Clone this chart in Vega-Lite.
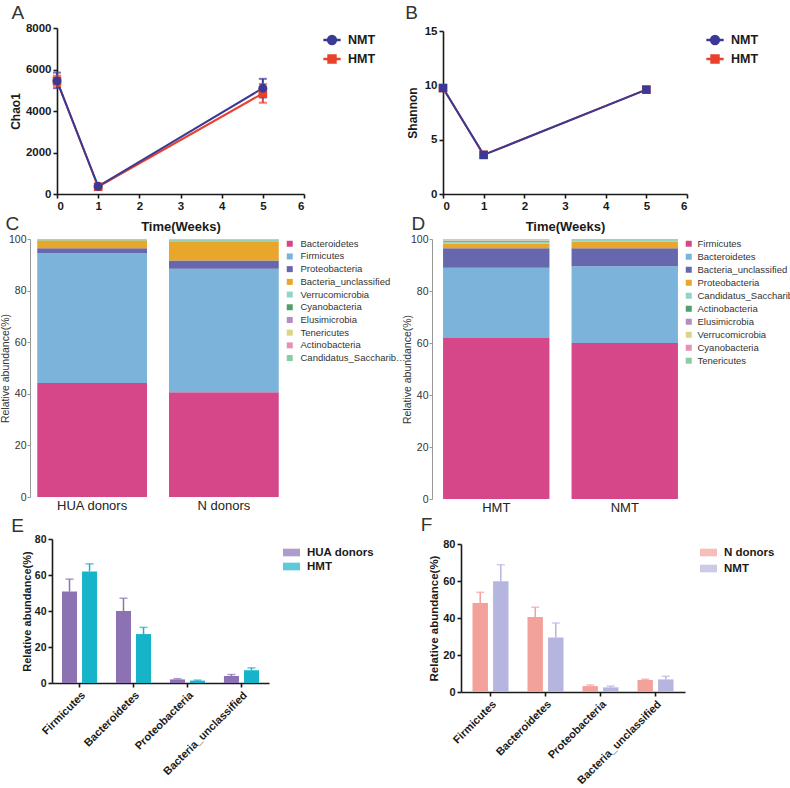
{
  "$schema": "https://vega.github.io/schema/vega-lite/v6.json",
  "padding": {"left": 0, "top": 4, "right": 0, "bottom": 0},
  "background": "white",
  "columns": 2,
  "align": "each",
  "bounds": "flush",
  "spacing": {"row": 45, "column": 139},
  "resolve": {"scale": {"color": "independent", "fill": "independent", "stroke": "independent", "shape": "independent", "x": "independent", "y": "independent", "xOffset": "independent"}},
  "config": {
    "view": {"stroke": null},
    "font": "Liberation Sans",
    "axis": {"grid": false, "labelFont": "Liberation Sans", "labelFontWeight": "bold", "labelFontSize": 11.5, "labelColor": "#1a1a1a", "labelPadding": 2, "domainColor": "#1a1a1a", "domainWidth": 1.6, "tickColor": "#1a1a1a", "tickWidth": 1.6, "tickSize": 4, "titleFont": "Liberation Sans", "titleFontWeight": "bold", "titleFontSize": 12, "titleColor": "#1a1a1a"},
    "title": {"fontSize": 19, "fontWeight": "normal", "color": "#333333", "anchor": "start", "frame": "bounds", "offset": 2, "font": "Liberation Sans"}
  },
  "datasets": {
    "chao": [
      {"group": "HMT", "week": 0, "mean": 5450, "lo": 5200, "hi": 5700},
      {"group": "HMT", "week": 1, "mean": 350, "lo": 250, "hi": 450},
      {"group": "HMT", "week": 5, "mean": 4850, "lo": 4400, "hi": 5300},
      {"group": "NMT", "week": 0, "mean": 5450, "lo": 5100, "hi": 5850},
      {"group": "NMT", "week": 1, "mean": 370, "lo": 280, "hi": 460},
      {"group": "NMT", "week": 5, "mean": 5100, "lo": 4650, "hi": 5550}
    ],
    "shannon": [
      {"group": "HMT", "week": 0, "mean": 9.75, "lo": 9.6, "hi": 9.9},
      {"group": "HMT", "week": 1, "mean": 3.6, "lo": 3.3, "hi": 3.9},
      {"group": "HMT", "week": 5, "mean": 9.6, "lo": 9.5, "hi": 9.7},
      {"group": "NMT", "week": 0, "mean": 9.75, "lo": 9.6, "hi": 9.9},
      {"group": "NMT", "week": 1, "mean": 3.6, "lo": 3.3, "hi": 3.9},
      {"group": "NMT", "week": 5, "mean": 9.6, "lo": 9.5, "hi": 9.7}
    ],
    "compC": [
      {"sample": "HUA donors", "phylum": "Bacteroidetes", "value": 44.2, "rank": 1},
      {"sample": "HUA donors", "phylum": "Firmicutes", "value": 50.3, "rank": 2},
      {"sample": "HUA donors", "phylum": "Proteobacteria", "value": 1.9, "rank": 3},
      {"sample": "HUA donors", "phylum": "Bacteria_unclassified", "value": 3.0, "rank": 4},
      {"sample": "HUA donors", "phylum": "Verrucomicrobia", "value": 0.15, "rank": 5},
      {"sample": "HUA donors", "phylum": "Cyanobacteria", "value": 0.25, "rank": 6},
      {"sample": "HUA donors", "phylum": "Elusimicrobia", "value": 0.05, "rank": 7},
      {"sample": "HUA donors", "phylum": "Tenericutes", "value": 0.05, "rank": 8},
      {"sample": "HUA donors", "phylum": "Actinobacteria", "value": 0.03, "rank": 9},
      {"sample": "HUA donors", "phylum": "Candidatus_Saccharibacteria", "value": 0.02, "rank": 10},
      {"sample": "N donors", "phylum": "Bacteroidetes", "value": 40.6, "rank": 1},
      {"sample": "N donors", "phylum": "Firmicutes", "value": 47.9, "rank": 2},
      {"sample": "N donors", "phylum": "Proteobacteria", "value": 3.2, "rank": 3},
      {"sample": "N donors", "phylum": "Bacteria_unclassified", "value": 7.1, "rank": 4},
      {"sample": "N donors", "phylum": "Verrucomicrobia", "value": 0.7, "rank": 5},
      {"sample": "N donors", "phylum": "Cyanobacteria", "value": 0.2, "rank": 6},
      {"sample": "N donors", "phylum": "Elusimicrobia", "value": 0.1, "rank": 7},
      {"sample": "N donors", "phylum": "Tenericutes", "value": 0.1, "rank": 8},
      {"sample": "N donors", "phylum": "Actinobacteria", "value": 0.05, "rank": 9},
      {"sample": "N donors", "phylum": "Candidatus_Saccharibacteria", "value": 0.05, "rank": 10}
    ],
    "compD": [
      {"sample": "HMT", "phylum": "Firmicutes", "value": 61.9, "rank": 1},
      {"sample": "HMT", "phylum": "Bacteroidetes", "value": 27.0, "rank": 2},
      {"sample": "HMT", "phylum": "Bacteria_unclassified", "value": 7.5, "rank": 3},
      {"sample": "HMT", "phylum": "Proteobacteria", "value": 1.9, "rank": 4},
      {"sample": "HMT", "phylum": "Candidatus_Saccharibacteria", "value": 0.5, "rank": 5},
      {"sample": "HMT", "phylum": "Actinobacteria", "value": 0.3, "rank": 6},
      {"sample": "HMT", "phylum": "Elusimicrobia", "value": 0.3, "rank": 7},
      {"sample": "HMT", "phylum": "Verrucomicrobia", "value": 0.3, "rank": 8},
      {"sample": "HMT", "phylum": "Cyanobacteria", "value": 0.2, "rank": 9},
      {"sample": "HMT", "phylum": "Tenericutes", "value": 0.1, "rank": 10},
      {"sample": "NMT", "phylum": "Firmicutes", "value": 60.0, "rank": 1},
      {"sample": "NMT", "phylum": "Bacteroidetes", "value": 29.5, "rank": 2},
      {"sample": "NMT", "phylum": "Bacteria_unclassified", "value": 6.9, "rank": 3},
      {"sample": "NMT", "phylum": "Proteobacteria", "value": 2.6, "rank": 4},
      {"sample": "NMT", "phylum": "Candidatus_Saccharibacteria", "value": 0.6, "rank": 5},
      {"sample": "NMT", "phylum": "Actinobacteria", "value": 0.2, "rank": 6},
      {"sample": "NMT", "phylum": "Elusimicrobia", "value": 0.05, "rank": 7},
      {"sample": "NMT", "phylum": "Verrucomicrobia", "value": 0.05, "rank": 8},
      {"sample": "NMT", "phylum": "Cyanobacteria", "value": 0.05, "rank": 9},
      {"sample": "NMT", "phylum": "Tenericutes", "value": 0.05, "rank": 10}
    ],
    "barE": [
      {"phylum": "Firmicutes", "group": "HUA donors", "mean": 50.8, "hi": 57.7},
      {"phylum": "Firmicutes", "group": "HMT", "mean": 62.0, "hi": 66.2},
      {"phylum": "Bacteroidetes", "group": "HUA donors", "mean": 40.0, "hi": 47.1},
      {"phylum": "Bacteroidetes", "group": "HMT", "mean": 27.2, "hi": 30.9},
      {"phylum": "Proteobacteria", "group": "HUA donors", "mean": 2.0, "hi": 2.4},
      {"phylum": "Proteobacteria", "group": "HMT", "mean": 1.3, "hi": 1.6},
      {"phylum": "Bacteria_unclassified", "group": "HUA donors", "mean": 3.9, "hi": 4.7},
      {"phylum": "Bacteria_unclassified", "group": "HMT", "mean": 7.1, "hi": 8.4}
    ],
    "barF": [
      {"phylum": "Firmicutes", "group": "N donors", "mean": 48.1, "hi": 53.9},
      {"phylum": "Firmicutes", "group": "NMT", "mean": 59.8, "hi": 68.8},
      {"phylum": "Bacteroidetes", "group": "N donors", "mean": 40.5, "hi": 45.8},
      {"phylum": "Bacteroidetes", "group": "NMT", "mean": 29.5, "hi": 37.3},
      {"phylum": "Proteobacteria", "group": "N donors", "mean": 3.2, "hi": 3.8},
      {"phylum": "Proteobacteria", "group": "NMT", "mean": 2.5, "hi": 3.2},
      {"phylum": "Bacteria_unclassified", "group": "N donors", "mean": 6.5, "hi": 6.9},
      {"phylum": "Bacteria_unclassified", "group": "NMT", "mean": 6.8, "hi": 8.5}
    ]
  },
  "concat": [
    {
      "title": {"text": "A", "dx": 2, "offset": -1},
      "width": 247, "height": 166,
      "data": {"name": "chao"},
      "encoding": {
        "x": {"field": "week", "type": "quantitative", "scale": {"domain": [0, 6], "nice": false}, "axis": {"values": [0, 1, 2, 3, 4, 5, 6], "title": "Time(Weeks)", "titleFontSize": 13, "titlePadding": 9, "format": "d"}},
        "y": {"field": "mean", "type": "quantitative", "title": "Chao1", "scale": {"domain": [0, 8000], "nice": false}, "axis": {"values": [0, 2000, 4000, 6000, 8000], "titlePadding": 3, "format": "d"}},
        "color": {"field": "group", "type": "nominal", "scale": {"domain": ["HMT", "NMT"], "range": ["#e8412c", "#3a3a96"]}, "legend": null}
      },
      "layer": [
        {"transform": [{"filter": "datum.group === 'HMT'"}], "mark": {"type": "line", "strokeWidth": 2}},
        {"transform": [{"filter": "datum.group === 'NMT'"}], "mark": {"type": "line", "strokeWidth": 2}},
        {"mark": {"type": "rule", "strokeWidth": 2}, "encoding": {"y": {"field": "lo", "type": "quantitative", "title": "Chao1", "scale": {"domain": [0, 8000], "nice": false}}, "y2": {"field": "hi"}}},
        {"mark": {"type": "tick", "orient": "horizontal", "size": 8, "thickness": 2}, "encoding": {"y": {"field": "hi", "type": "quantitative", "title": "Chao1", "scale": {"domain": [0, 8000], "nice": false}}}},
        {"mark": {"type": "tick", "orient": "horizontal", "size": 8, "thickness": 2}, "encoding": {"y": {"field": "lo", "type": "quantitative", "title": "Chao1", "scale": {"domain": [0, 8000], "nice": false}}}},
        {"transform": [{"filter": "datum.group === 'HMT'"}], "mark": {"type": "point", "shape": "square", "filled": true, "size": 75, "opacity": 1}},
        {"transform": [{"filter": "datum.group === 'NMT'"}], "mark": {"type": "point", "shape": "circle", "filled": true, "size": 80, "opacity": 1}},
        {"mark": {"type": "point", "filled": true, "opacity": 0},
         "encoding": {
           "fill": {"field": "group", "type": "nominal", "scale": {"domain": ["NMT", "HMT"], "range": ["#3a3a96", "#e8412c"]}, "legend": {"title": null, "orient": "right", "offset": 16, "padding": 2, "labelFont": "Liberation Sans", "labelFontWeight": "bold", "labelFontSize": 12.5, "labelColor": "#1a1a1a", "symbolSize": 300, "symbolStrokeWidth": 2.5, "symbolOpacity": 1, "rowPadding": 0, "labelOffset": 6}},
           "stroke": {"field": "group", "type": "nominal", "scale": {"domain": ["NMT", "HMT"], "range": ["#3a3a96", "#e8412c"]}, "legend": {"title": null, "orient": "right", "offset": 16, "padding": 2, "labelFont": "Liberation Sans", "labelFontWeight": "bold", "labelFontSize": 12.5, "labelColor": "#1a1a1a", "symbolSize": 300, "symbolStrokeWidth": 2.5, "symbolOpacity": 1, "rowPadding": 0, "labelOffset": 6}},
           "shape": {"field": "group", "type": "nominal", "scale": {"domain": ["NMT", "HMT"], "range": ["M-1,0L1,0M0.45,0A0.45,0.45,0,1,1,-0.45,0A0.45,0.45,0,1,1,0.45,0Z", "M-1,0L1,0M-0.4,-0.4L0.4,-0.4L0.4,0.4L-0.4,0.4Z"]}, "legend": {"title": null, "orient": "right", "offset": 16, "padding": 2, "labelFont": "Liberation Sans", "labelFontWeight": "bold", "labelFontSize": 12.5, "labelColor": "#1a1a1a", "symbolSize": 300, "symbolStrokeWidth": 2.5, "symbolOpacity": 1, "rowPadding": 0, "labelOffset": 6}}
         }}
      ]
    },
    {
      "title": {"text": "B", "dx": -1, "offset": 2},
      "width": 244, "height": 166,
      "data": {"name": "shannon"},
      "encoding": {
        "x": {"field": "week", "type": "quantitative", "scale": {"domain": [0, 6], "nice": false}, "axis": {"values": [0, 1, 2, 3, 4, 5, 6], "title": "Time(Weeks)", "titleFontSize": 13, "titlePadding": 9, "format": "d"}},
        "y": {"field": "mean", "type": "quantitative", "title": "Shannon", "scale": {"domain": [0, 15], "nice": false, "range": [166, 3]}, "axis": {"values": [0, 5, 10, 15], "titlePadding": 5}},
        "color": {"field": "group", "type": "nominal", "scale": {"domain": ["HMT", "NMT"], "range": ["#e8412c", "#3a3a96"]}, "legend": null}
      },
      "layer": [
        {"transform": [{"filter": "datum.group === 'HMT'"}], "mark": {"type": "line", "strokeWidth": 2}},
        {"transform": [{"filter": "datum.group === 'NMT'"}], "mark": {"type": "line", "strokeWidth": 2}},
        {"mark": {"type": "rule", "strokeWidth": 2}, "encoding": {"y": {"field": "lo", "type": "quantitative", "title": "Shannon", "scale": {"domain": [0, 15], "nice": false, "range": [166, 3]}}, "y2": {"field": "hi"}}},
        {"transform": [{"filter": "datum.group === 'HMT'"}], "mark": {"type": "point", "shape": "square", "filled": true, "size": 75, "opacity": 1}},
        {"transform": [{"filter": "datum.group === 'NMT'"}], "mark": {"type": "point", "shape": "square", "filled": true, "size": 70, "opacity": 1}},
        {"mark": {"type": "point", "filled": true, "opacity": 0},
         "encoding": {
           "fill": {"field": "group", "type": "nominal", "scale": {"domain": ["NMT", "HMT"], "range": ["#3a3a96", "#e8412c"]}, "legend": {"title": null, "orient": "right", "offset": 16, "padding": 2, "labelFont": "Liberation Sans", "labelFontWeight": "bold", "labelFontSize": 12.5, "labelColor": "#1a1a1a", "symbolSize": 300, "symbolStrokeWidth": 2.5, "symbolOpacity": 1, "rowPadding": 0, "labelOffset": 6}},
           "stroke": {"field": "group", "type": "nominal", "scale": {"domain": ["NMT", "HMT"], "range": ["#3a3a96", "#e8412c"]}, "legend": {"title": null, "orient": "right", "offset": 16, "padding": 2, "labelFont": "Liberation Sans", "labelFontWeight": "bold", "labelFontSize": 12.5, "labelColor": "#1a1a1a", "symbolSize": 300, "symbolStrokeWidth": 2.5, "symbolOpacity": 1, "rowPadding": 0, "labelOffset": 6}},
           "shape": {"field": "group", "type": "nominal", "scale": {"domain": ["NMT", "HMT"], "range": ["M-1,0L1,0M0.45,0A0.45,0.45,0,1,1,-0.45,0A0.45,0.45,0,1,1,0.45,0Z", "M-1,0L1,0M-0.4,-0.4L0.4,-0.4L0.4,0.4L-0.4,0.4Z"]}, "legend": {"title": null, "orient": "right", "offset": 16, "padding": 2, "labelFont": "Liberation Sans", "labelFontWeight": "bold", "labelFontSize": 12.5, "labelColor": "#1a1a1a", "symbolSize": 300, "symbolStrokeWidth": 2.5, "symbolOpacity": 1, "rowPadding": 0, "labelOffset": 6}}
         }}
      ]
    },
    {
      "title": {"text": "C", "dx": 5, "offset": 0},
      "width": 229, "height": 258,
      "data": {"name": "compC"},
      "mark": {"type": "bar"},
      "encoding": {
        "x": {"field": "sample", "type": "nominal", "sort": ["HUA donors", "N donors"], "scale": {"type": "band", "range": [-27, 229], "paddingInner": 0.167, "paddingOuter": 0.055}, "axis": {"title": null, "labelAngle": 0, "domain": false, "ticks": false, "labelFont": "Liberation Sans", "labelFontWeight": "normal", "labelFontSize": 13, "labelColor": "#222222", "labelPadding": 2}},
        "y": {"field": "value", "type": "quantitative", "stack": "zero", "scale": {"domain": [0, 100], "nice": false}, "axis": {"offset": 27, "title": "Relative abundance(%)", "values": [0, 20, 40, 60, 80, 100], "titleFont": "Liberation Sans", "titleFontWeight": "normal", "titleFontSize": 10.5, "titleColor": "#333333", "titlePadding": -2, "labelFont": "Liberation Sans", "labelFontWeight": "normal", "labelFontSize": 10.5, "labelColor": "#333333", "labelPadding": 1, "domainColor": "#999999", "domainWidth": 1, "tickColor": "#999999", "tickWidth": 1, "tickSize": 3}},
        "color": {"field": "phylum", "type": "nominal", "scale": {"domain": ["Bacteroidetes", "Firmicutes", "Proteobacteria", "Bacteria_unclassified", "Verrucomicrobia", "Cyanobacteria", "Elusimicrobia", "Tenericutes", "Actinobacteria", "Candidatus_Saccharibacteria"], "range": ["#d6478a", "#7bb3da", "#6667ac", "#e8a62b", "#92d5c8", "#4fa06a", "#b48cc2", "#d9d487", "#e393b6", "#86cfa0"]}, "legend": {"title": null, "orient": "right", "offset": -1, "padding": 0, "symbolType": "square", "symbolSize": 36, "symbolStrokeWidth": 0, "labelFont": "Liberation Sans", "labelFontSize": 9.5, "labelColor": "#333333", "rowPadding": 1.7, "labelOffset": 6, "labelLimit": 106}},
        "order": {"field": "rank", "type": "quantitative", "sort": "ascending"}
      }
    },
    {
      "title": {"text": "D", "dx": 9, "offset": 0},
      "width": 246, "height": 260,
      "data": {"name": "compD"},
      "mark": {"type": "bar"},
      "encoding": {
        "x": {"field": "sample", "type": "nominal", "sort": ["HMT", "NMT"], "scale": {"type": "band", "range": [-11, 246], "paddingInner": 0.172, "paddingOuter": 0.086}, "axis": {"title": null, "labelAngle": 0, "domain": false, "ticks": false, "labelFont": "Liberation Sans", "labelFontWeight": "normal", "labelFontSize": 13, "labelColor": "#222222", "labelPadding": 2}},
        "y": {"field": "value", "type": "quantitative", "stack": "zero", "scale": {"domain": [0, 100], "nice": false}, "axis": {"offset": 11, "title": "Relative abundance(%)", "values": [0, 20, 40, 60, 80, 100], "titleFont": "Liberation Sans", "titleFontWeight": "normal", "titleFontSize": 10.5, "titleColor": "#333333", "titlePadding": -2, "labelFont": "Liberation Sans", "labelFontWeight": "normal", "labelFontSize": 10.5, "labelColor": "#333333", "labelPadding": 1, "domainColor": "#999999", "domainWidth": 1, "tickColor": "#999999", "tickWidth": 1, "tickSize": 3}},
        "color": {"field": "phylum", "type": "nominal", "scale": {"domain": ["Firmicutes", "Bacteroidetes", "Bacteria_unclassified", "Proteobacteria", "Candidatus_Saccharibacteria", "Actinobacteria", "Elusimicrobia", "Verrucomicrobia", "Cyanobacteria", "Tenericutes"], "range": ["#d6478a", "#7bb3da", "#6667ac", "#e8a62b", "#92d5c8", "#4fa06a", "#b48cc2", "#d9d487", "#e393b6", "#86cfa0"]}, "legend": {"title": null, "orient": "right", "offset": -5, "padding": 0, "symbolType": "square", "symbolSize": 36, "symbolStrokeWidth": 0, "labelFont": "Liberation Sans", "labelFontSize": 9.5, "labelColor": "#333333", "rowPadding": 2, "labelOffset": 4, "labelLimit": 200}},
        "order": {"field": "rank", "type": "quantitative", "sort": "ascending"}
      }
    },
    {
      "title": {"text": "E", "dx": -10, "offset": -2},
      "width": 212, "height": 144,
      "data": {"name": "barE"},
      "encoding": {
        "x": {"field": "phylum", "type": "nominal", "sort": ["Firmicutes", "Bacteroidetes", "Proteobacteria", "Bacteria_unclassified"], "scale": {"type": "band", "range": [-5, 212], "paddingInner": 0.35, "paddingOuter": 0.185}, "axis": {"title": null, "labelAngle": -45, "labelFontSize": 11, "offset": -5}},
        "xOffset": {"field": "group", "type": "nominal", "sort": ["HUA donors", "HMT"], "scale": {"type": "band", "paddingInner": 0.25, "paddingOuter": 0}},
        "y": {"field": "mean", "type": "quantitative", "title": "Relative abundance(%)", "scale": {"domain": [0, 80], "nice": false, "range": [139, -5]}, "axis": {"offset": 5, "values": [0, 20, 40, 60, 80], "labelFontSize": 10.5, "titleFontSize": 11, "titlePadding": 2}},
        "color": {"field": "group", "type": "nominal", "scale": {"domain": ["HUA donors", "HMT"], "range": ["#8c72b3", "#17b3c9"]}, "legend": {"title": null, "orient": "right", "offset": 14, "padding": 0, "symbolType": "M-1,-0.45L1,-0.45L1,0.45L-1,0.45Z", "symbolSize": 289, "symbolStrokeWidth": 0, "labelFont": "Liberation Sans", "labelFontWeight": "bold", "labelFontSize": 11.5, "labelColor": "#1a1a1a", "rowPadding": 0, "labelOffset": 7}}
      },
      "layer": [
        {"mark": {"type": "rule", "strokeWidth": 1.5}, "encoding": {"y2": {"field": "hi"}}},
        {"mark": {"type": "tick", "orient": "horizontal", "size": 8, "thickness": 1.5}, "encoding": {"y": {"field": "hi", "type": "quantitative", "title": "Relative abundance(%)", "scale": {"domain": [0, 80], "nice": false, "range": [139, -5]}}}},
        {"mark": {"type": "bar"}}
      ]
    },
    {
      "title": {"text": "F", "dx": -8, "offset": 3},
      "width": 242, "height": 148,
      "data": {"name": "barF"},
      "encoding": {
        "x": {"field": "phylum", "type": "nominal", "sort": ["Firmicutes", "Bacteroidetes", "Proteobacteria", "Bacteria_unclassified"], "scale": {"type": "band", "range": [18, 242], "paddingInner": 0.345, "paddingOuter": 0.209}, "axis": {"title": null, "labelAngle": -45, "labelFontSize": 11}},
        "xOffset": {"field": "group", "type": "nominal", "sort": ["N donors", "NMT"], "scale": {"type": "band", "paddingInner": 0.25, "paddingOuter": 0}},
        "y": {"field": "mean", "type": "quantitative", "title": "Relative abundance(%)", "scale": {"domain": [0, 80], "nice": false}, "axis": {"offset": -18, "values": [0, 20, 40, 60, 80], "labelFontSize": 11, "titleFontSize": 11.5, "titlePadding": 3}},
        "color": {"field": "group", "type": "nominal", "scale": {"domain": ["N donors", "NMT"], "range": ["#f2a19b", "#b5b5df"]}, "legend": {"title": null, "orient": "right", "offset": 15, "padding": 0, "symbolType": "M-1,-0.45L1,-0.45L1,0.45L-1,0.45Z", "symbolSize": 289, "symbolStrokeWidth": 0, "labelFont": "Liberation Sans", "labelFontWeight": "bold", "labelFontSize": 11.5, "labelColor": "#1a1a1a", "rowPadding": 2, "labelOffset": 7}}
      },
      "layer": [
        {"mark": {"type": "rule", "strokeWidth": 1.5}, "encoding": {"y2": {"field": "hi"}}},
        {"mark": {"type": "tick", "orient": "horizontal", "size": 8, "thickness": 1.5}, "encoding": {"y": {"field": "hi", "type": "quantitative", "title": "Relative abundance(%)", "scale": {"domain": [0, 80], "nice": false}}}},
        {"mark": {"type": "bar"}}
      ]
    }
  ]
}
